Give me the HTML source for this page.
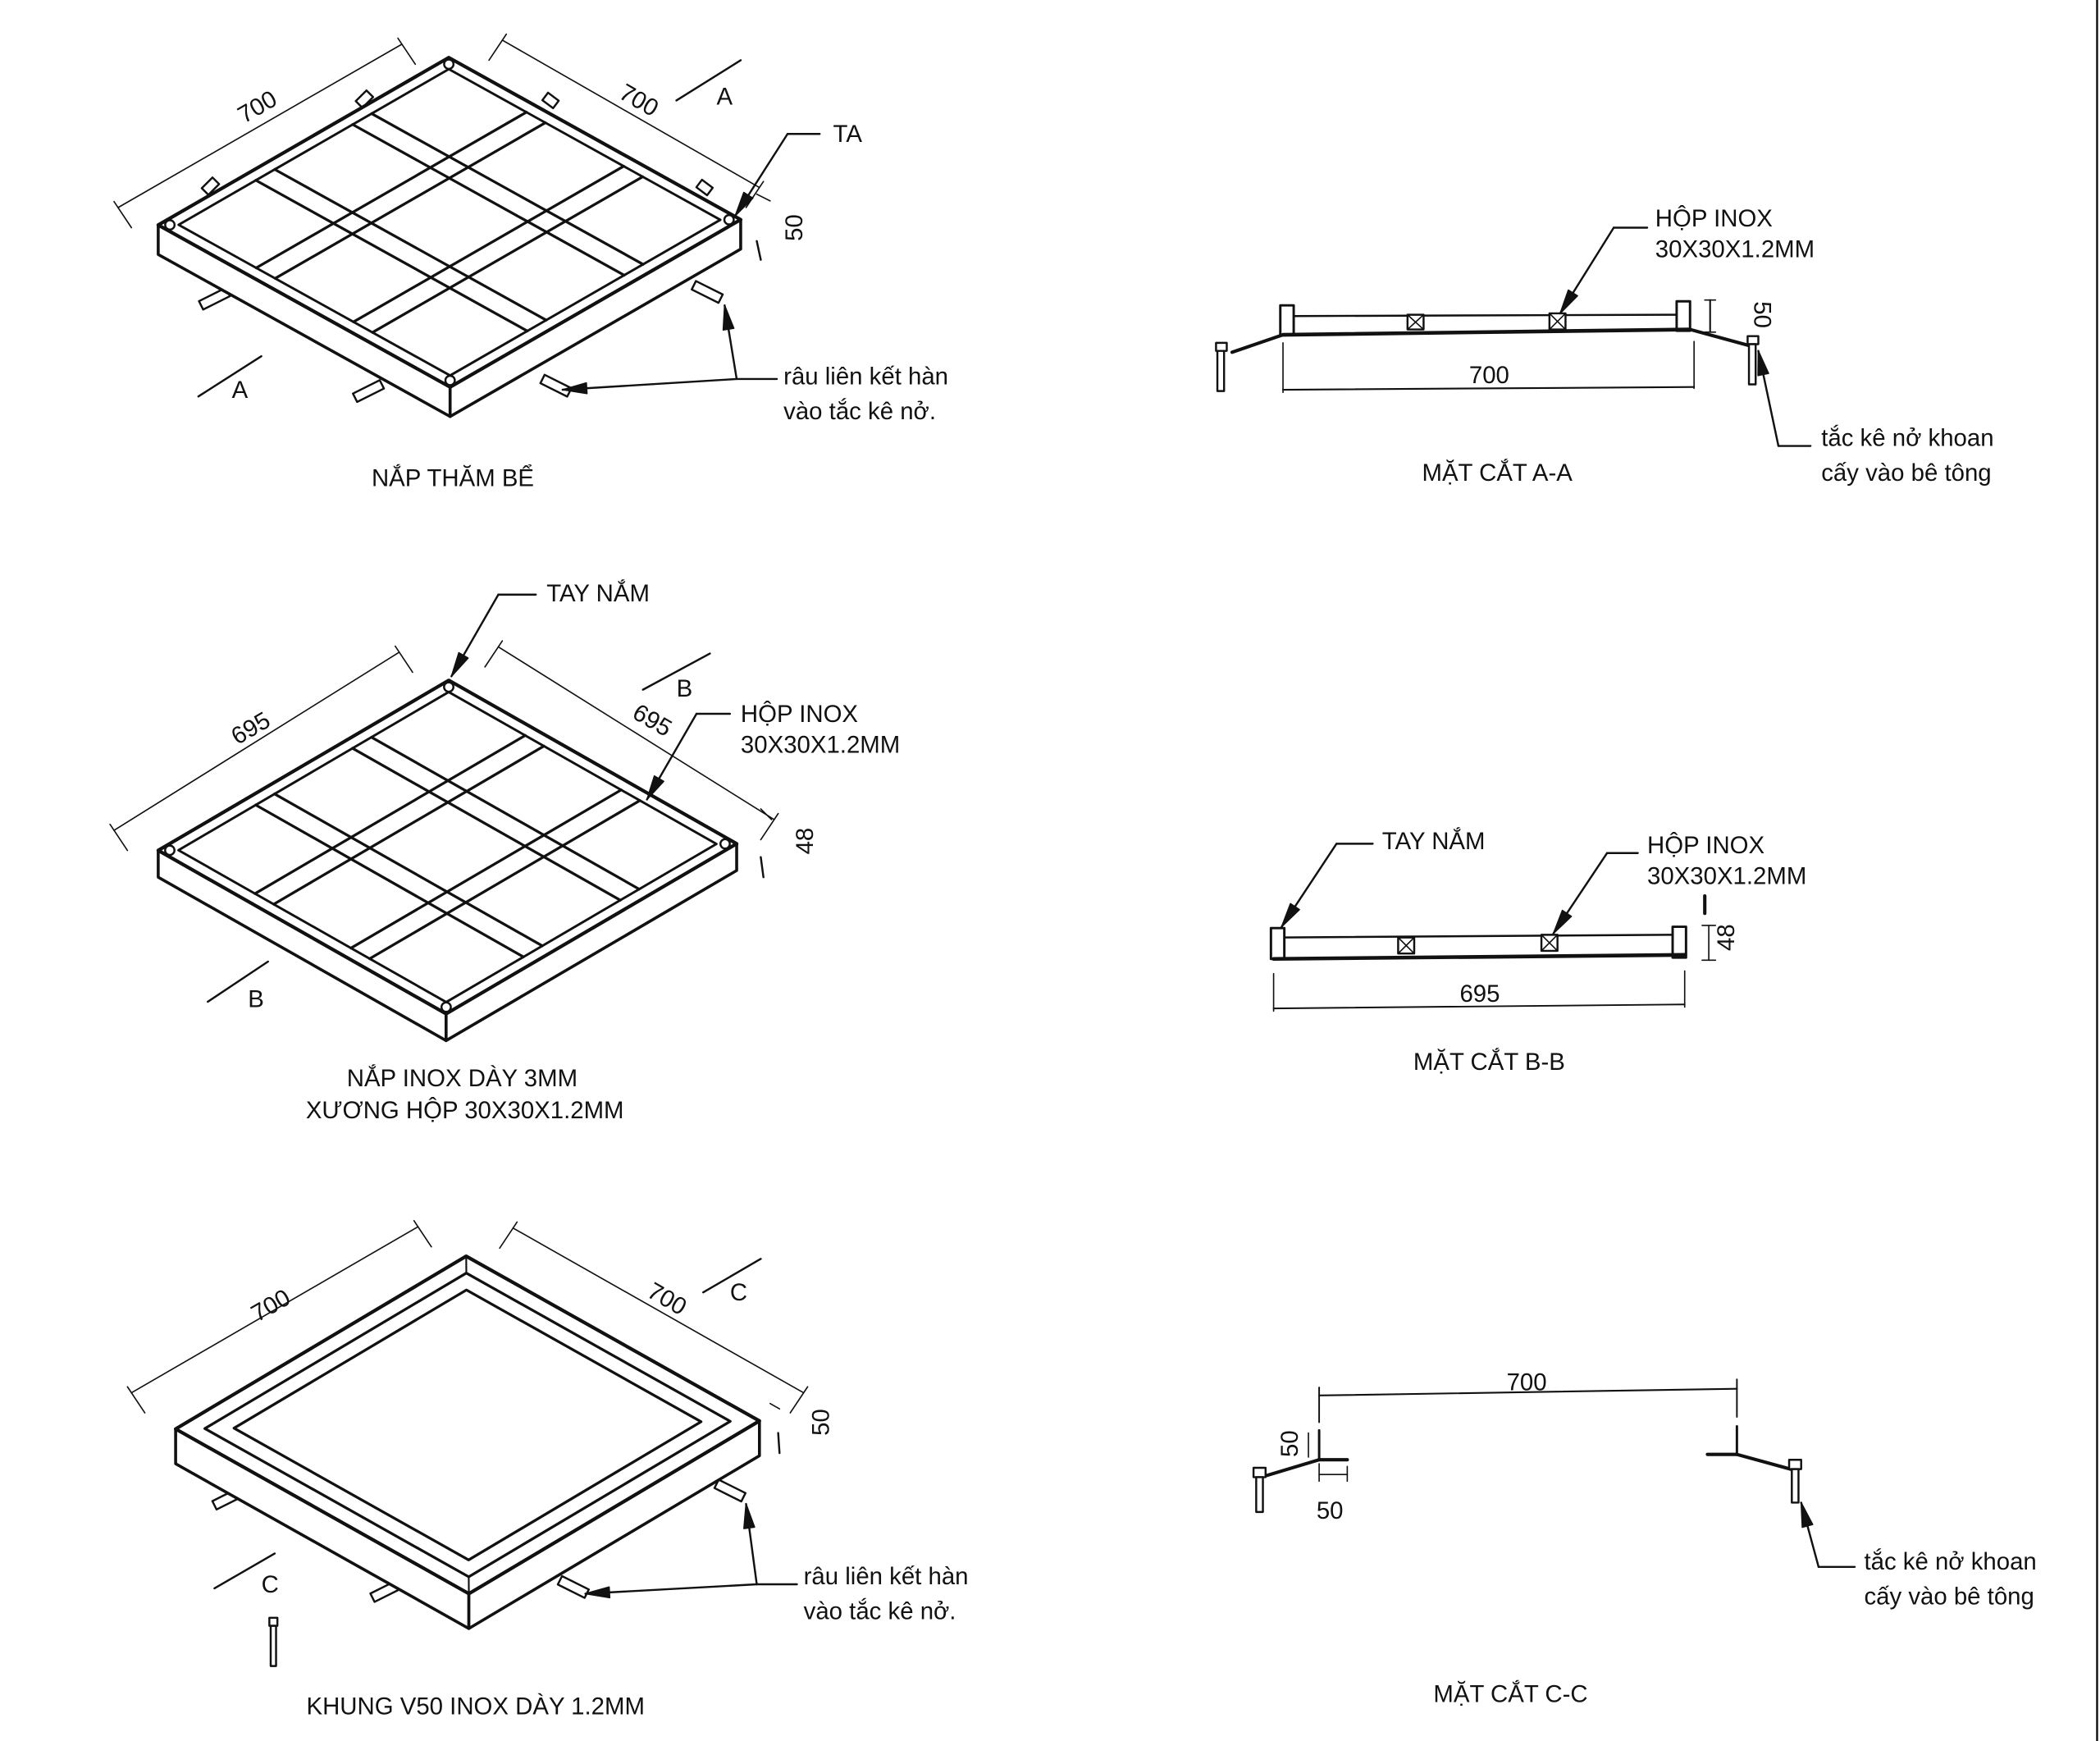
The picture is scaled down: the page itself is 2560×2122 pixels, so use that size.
<!DOCTYPE html>
<html><head><meta charset="utf-8">
<style>
html,body{margin:0;padding:0;background:#fff;}
svg{display:block;}
text{font-family:"Liberation Sans",sans-serif;fill:#111;}
</style></head>
<body>
<svg id="s" width="2560" height="2122" viewBox="0 0 1568 1300" xmlns="http://www.w3.org/2000/svg">
<rect width="1568" height="1300" fill="#fff"/>
<g id="g" stroke="#111" fill="none" stroke-linecap="round" stroke-linejoin="round"></g>
<g font-size="18">
<text transform="translate(195,85) rotate(-30)" text-anchor="middle">700</text>
<text transform="translate(474,80) rotate(30)" text-anchor="middle">700</text>
<text x="535" y="78">A</text>
<text x="173" y="297">A</text>
<text transform="translate(599,170) rotate(-90)" text-anchor="middle">50</text>
<text x="622" y="106">TA</text>
<text x="585" y="287">râu liên kết hàn</text>
<text x="585" y="313">vào tắc kê nở.</text>
<text x="338" y="363" text-anchor="middle">NẮP THĂM BỂ</text>
<text x="408" y="449">TAY NẮM</text>
<text transform="translate(190,549) rotate(-30)" text-anchor="middle">695</text>
<text transform="translate(484,543) rotate(30)" text-anchor="middle">695</text>
<text x="505" y="520">B</text>
<text x="185" y="752">B</text>
<text x="553" y="539">HỘP INOX</text>
<text x="553" y="562">30X30X1.2MM</text>
<text transform="translate(607,628) rotate(-90)" text-anchor="middle">48</text>
<text x="345" y="811" text-anchor="middle">NẮP INOX DÀY 3MM</text>
<text x="347" y="835" text-anchor="middle">XƯƠNG HỘP 30X30X1.2MM</text>
<text transform="translate(205,980) rotate(-30)" text-anchor="middle">700</text>
<text transform="translate(495,975) rotate(30)" text-anchor="middle">700</text>
<text x="545" y="971">C</text>
<text x="195" y="1189">C</text>
<text transform="translate(619,1062) rotate(-90)" text-anchor="middle">50</text>
<text x="600" y="1183">râu liên kết hàn</text>
<text x="600" y="1209">vào tắc kê nở.</text>
<text x="355" y="1280" text-anchor="middle">KHUNG V50 INOX DÀY 1.2MM</text>
<text x="1236" y="169">HỘP INOX</text>
<text x="1236" y="192">30X30X1.2MM</text>
<text x="1112" y="286" text-anchor="middle">700</text>
<text transform="translate(1310,235) rotate(90)" text-anchor="middle">50</text>
<text x="1360" y="333">tắc kê nở khoan</text>
<text x="1360" y="359">cấy vào bê tông</text>
<text x="1118" y="359" text-anchor="middle">MẶT CẮT A-A</text>
<text x="1032" y="634">TAY NẮM</text>
<text x="1230" y="637">HỘP INOX</text>
<text x="1230" y="660">30X30X1.2MM</text>
<text x="1105" y="748" text-anchor="middle">695</text>
<text transform="translate(1295,700) rotate(-90)" text-anchor="middle">48</text>
<text x="1112" y="799" text-anchor="middle">MẶT CẮT B-B</text>
<text x="1140" y="1038" text-anchor="middle">700</text>
<text transform="translate(969,1078) rotate(-90)" text-anchor="middle">50</text>
<text x="983" y="1134">50</text>
<text x="1392" y="1172">tắc kê nở khoan</text>
<text x="1392" y="1198">cấy vào bê tông</text>
<text x="1128" y="1271" text-anchor="middle">MẶT CẮT C-C</text>
</g>
</svg>
<script>
var g=document.getElementById('g'),h='';
function L(a,b,c,d,w){h+='<line x1="'+a+'" y1="'+b+'" x2="'+c+'" y2="'+d+'" stroke-width="'+(w||1.5)+'"/>';}
function P(pts,w,f){h+='<polygon points="'+pts.map(function(p){return p[0]+','+p[1]}).join(' ')+'" stroke-width="'+(w||1.5)+'" fill="'+(f||'none')+'"/>';}
function PL(pts,w){h+='<polyline points="'+pts.map(function(p){return p[0]+','+p[1]}).join(' ')+'" stroke-width="'+(w||1.5)+'"/>';}
function R(x,y,w,hh,sw){h+='<rect x="'+x+'" y="'+y+'" width="'+w+'" height="'+hh+'" stroke-width="'+(sw||1.5)+'" fill="#fff"/>';}
function arrow(x1,y1,x2,y2){
 L(x1,y1,x2,y2,1.5);var dx=x2-x1,dy=y2-y1,l=Math.hypot(dx,dy);dx/=l;dy/=l;var s=18,w=4;
 P([[x2,y2],[x2-dx*s-dy*w,y2-dy*s+dx*w],[x2-dx*s+dy*w,y2-dy*s-dx*w]],1,'#111');}
function iso(T,Rr,Lf,H,grid){
 function pt(u,v){return [T[0]+(Rr[0]-T[0])*u+(Lf[0]-T[0])*v, T[1]+(Rr[1]-T[1])*u+(Lf[1]-T[1])*v];}
 var B=pt(1,1);
 P([Lf,B,[B[0],B[1]+H],[Lf[0],Lf[1]+H]],2.2,'#fff');
 P([B,Rr,[Rr[0],Rr[1]+H],[B[0],B[1]+H]],2.2,'#fff');
 L(B[0],B[1],B[0],B[1]+H,1.5);
 P([T,Rr,B,Lf],2.6,'#fff');
 var e=0.035;
 if(grid){
  P([pt(e,e),pt(1-e,e),pt(1-e,1-e),pt(e,1-e)],1.8);
  var bw=0.065;
  [1/3,2/3].forEach(function(c){
   [c-bw/2,c+bw/2].forEach(function(k){var a=pt(k,e),b=pt(k,1-e);L(a[0],a[1],b[0],b[1],2);a=pt(e,k);b=pt(1-e,k);L(a[0],a[1],b[0],b[1],2);});
  });
  [[0,0],[1,0],[0,1],[1,1]].forEach(function(c){var p=pt(c[0]?1-0.02:0.02,c[1]?1-0.02:0.02);h+='<circle cx="'+p[0]+'" cy="'+p[1]+'" r="3.5" stroke-width="1.5" fill="#fff"/>';});
 } else {
  var i1=0.05,i2=0.1;
  P([pt(i1,i1),pt(1-i1,i1),pt(1-i1,1-i1),pt(i1,1-i1)],2);
  P([pt(i2,i2),pt(1-i2,i2),pt(1-i2,1-i2),pt(i2,1-i2)],2);
  var a=pt(0,0),b=pt(i1,i1);L(a[0],a[1],b[0],b[1],1.3);
  a=pt(1,1);b=pt(1-i1,1-i1);L(a[0],a[1],b[0],b[1],1.3);
 }
 return pt;
}
function lug(x1,y1,x2,y2){
 var dx=x2-x1,dy=y2-y1,l=Math.hypot(dx,dy),nx=-dy/l*3.5,ny=dx/l*3.5;
 P([[x1+nx,y1+ny],[x2+nx,y2+ny],[x2-nx,y2-ny],[x1-nx,y1-ny]],1.5,'#fff');}
function dim(x1,y1,x2,y2,ex,ey){L(x1,y1,x2,y2,1);L(x1-ex,y1-ey,x1+ex*0.3,y1+ey*0.3,1);L(x2-ex,y2-ey,x2+ex*0.3,y2+ey*0.3,1);}

lug(150,228,170,218);lug(265,297,285,287);lug(405,283,425,293);lug(518,213,538,223);
lug(268,78,276,70);lug(153,143,161,135);lug(407,72,415,78);lug(522,137,530,143);
iso([335,43],[553,164],[118,168],22,true);
dim(88,155,300,33,-10,-15);dim(375,30,567,140,10,-15);
L(505,75,553,45,1.5);L(148,296,195,266,1.5);
L(565,145,575,150,1);L(565,180,568,194,1.5);
PL([[612,100],[588,100]],1.5);arrow(588,100,549,161);
PL([[580,283],[550,283]],1.5);arrow(550,283,541,228);arrow(550,283,420,291);
iso([335,508],[550,630],[118,635],20,true);
dim(85,620,298,487,-10,-15);dim(372,483,578,612,10,-15);
L(480,515,530,488,1.5);L(155,748,200,718,1.5);
L(568,604,576,612,1);L(568,640,570,655,1.5);
PL([[400,444],[372,444]],1.5);arrow(372,444,337,505);
PL([[545,533],[520,533]],1.5);arrow(520,533,483,597);
lug(160,1124,180,1114);lug(278,1193,298,1183);lug(418,1180,438,1190);lug(535,1108,555,1118);
iso([348,938],[567,1061],[131,1067],26,false);
dim(98,1040,312,916,-10,-15);dim(383,917,600,1040,10,-15);
L(525,965,568,940,1.5);L(160,1186,205,1160,1.5);
L(575,1048,582,1052,1);L(581,1070,582,1085,1.5);
PL([[595,1183],[565,1183]],1.5);arrow(565,1183,557,1123);arrow(565,1183,437,1190);
R(201,1208,6,6,1.5);R(202,1214,4,30,1.5);
R(956,228,10,22,1.8);R(1252,225,10,22,1.8);
L(966,236,1252,235,1.5);L(958,250,1262,246,2.8);
R(1051,235,12,11,1.5);L(1051,235,1063,246,1);L(1063,235,1051,246,1);
R(1157,234,12,12,1.5);L(1157,234,1169,246,1);L(1169,234,1157,246,1);
PL([[958,250],[920,263]],2.5);PL([[1262,246],[1306,258]],2.5);
R(908,256,8,6,1.5);R(909,262,5,30,1.5);R(1305,251,8,6,1.5);R(1306,257,5,30,1.5);
L(958,256,958,293,1);L(1265,255,1265,290,1);L(958,291,1265,289,1.3);
L(1277,224,1277,248,1.3);L(1273,224,1281,224,1);L(1273,248,1281,248,1);
PL([[1230,170],[1205,170]],1.5);arrow(1205,170,1165,234);
PL([[1352,333],[1328,333]],1.5);arrow(1328,333,1313,262);
R(949,693,10,23,1.8);R(1249,692,10,23,1.8);
L(959,700,1249,698,1.5);L(951,716,1258,713,2.8);
R(1044,700,12,12,1.5);L(1044,700,1056,712,1);L(1056,700,1044,712,1);
R(1151,698,12,12,1.5);L(1151,698,1163,710,1);L(1163,698,1151,710,1);
L(951,727,951,755,1);L(1258,725,1258,752,1);L(951,753,1258,750,1.2);
L(1273,669,1273,682,2.5);L(1276,691,1276,717,1);L(1271,691,1281,691,1);L(1271,717,1281,717,1);
PL([[1025,630],[998,630]],1.5);arrow(998,630,957,692);
PL([[1223,637],[1200,637]],1.5);arrow(1200,637,1160,697);
L(985,1036,985,1062,1.2);L(985,1042,1297,1037,1.3);L(1297,1030,1297,1058,1.2);
L(985,1068,985,1090,1.8);L(985,1090,1006,1090,2.5);L(985,1090,945,1102,2.5);
R(936,1096,9,7,1.5);R(938,1103,5,26,1.5);
L(977,1070,977,1088,1);L(985,1093,985,1106,1);L(1006,1095,1006,1106,1);L(985,1101,1006,1101,1);
L(1297,1065,1297,1086,1.8);L(1275,1086,1297,1086,2.5);L(1297,1086,1337,1097,2.5);
R(1336,1090,9,7,1.5);R(1338,1097,5,25,1.5);
PL([[1385,1170],[1358,1170]],1.5);arrow(1358,1170,1345,1122);
L(1566,0,1566,1300,1.5);
g.innerHTML=h;
</script>
</body></html>
